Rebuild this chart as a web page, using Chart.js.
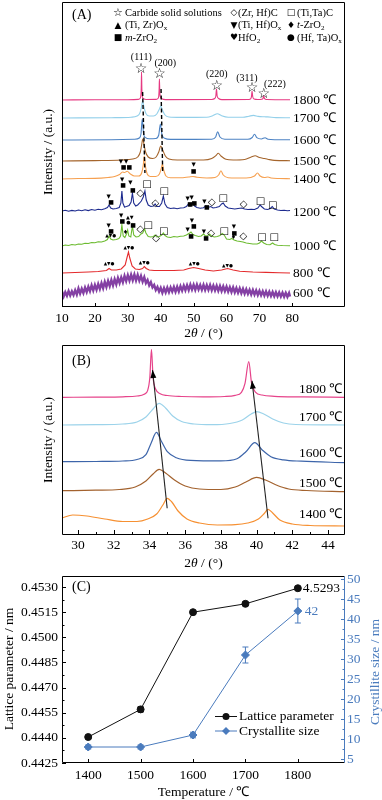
<!DOCTYPE html>
<html><head><meta charset="utf-8">
<script src="https://cdn.jsdelivr.net/npm/chart.js@4.4.0/dist/chart.umd.min.js"></script>
<style>
html,body{margin:0;padding:0;background:#fff;}
#wrap{position:relative;width:382px;height:800px;overflow:hidden;}
canvas{position:absolute;left:0;}
</style></head><body>
<div id="wrap">
<canvas id="cA" width="382" height="340" style="top:0;width:382px;height:340px"></canvas>
<canvas id="cB" width="382" height="230" style="top:340px;width:382px;height:230px"></canvas>
<canvas id="cC" width="382" height="230" style="top:570px;width:382px;height:230px"></canvas>
</div>
<script>
const SERIF = "'Liberation Serif','Times New Roman',serif";
const SYM = "'DejaVu Sans',sans-serif";

// ================= Panel A data =================
const twoThetaTicksA = [10,20,30,40,50,60,70,80];
const temperatureLabelsA = ['1800 ℃','1700 ℃','1600 ℃','1500 ℃','1400 ℃','1200 ℃','1000 ℃','800 ℃','600 ℃'];
const xrdA1800 = [[10,0],[20,0.3],[30,0.3],[33.2,0.6],[33.7,1.5],[33.95,4],[34.08,12],[34.17,28],[34.27,11],[34.42,3.5],[34.8,1.2],[35.6,0.5],[38.6,0.6],[39.15,1.5],[39.4,4],[39.52,11],[39.6,21],[39.7,10],[39.85,3.5],[40.3,1.2],[41.5,0.4],[55.5,0.5],[56.4,1.5],[56.75,4],[56.95,11],[57.15,4],[57.6,1.5],[58.6,0.4],[66.8,0.5],[67.4,1.5],[67.6,4],[67.75,9],[67.95,3.5],[68.4,1],[69.5,0.5],[70.7,0.7],[71.1,1.8],[71.3,4.3],[71.5,1.6],[72.2,0.5],[79.3,0.2]];
const xrdA1700 = [[10,0],[25,0.3],[31,0.8],[32.8,2],[33.6,4.5],[34.1,10],[34.5,17],[34.9,11],[35.5,4.5],[36.5,2],[37.8,2],[38.8,4],[39.6,9],[40.0,12],[40.5,8],[41.3,3],[42.5,1],[46,0.6],[54,0.8],[55.8,2.3],[57.2,4.3],[58.5,2.3],[60.5,0.8],[65,0.8],[66.8,1.8],[68.2,2.6],[69.6,1.6],[71.5,1.2],[72.5,1.1],[75,0.4],[79.3,0.2]];
const xrdA1600 = [[10,0],[25,0.2],[32,0.7],[33.5,2],[34.0,6],[34.39,21],[34.8,6],[35.4,2.3],[36.5,1.2],[38.5,1.5],[39.4,5],[39.9,16],[40.4,5],[41.2,1.8],[43,0.6],[55.5,0.8],[56.7,3],[57.3,8.3],[58.0,3],[59.5,0.8],[66.5,0.8],[67.8,2.5],[68.5,5.7],[69.2,2.3],[70.6,1],[71.7,2.3],[72.6,0.8],[75,0.3],[79.3,0.2]];
const xrdA1500 = [[10,0],[20,0.4],[28,1],[31.5,2],[33,4],[33.8,9],[34.2,16],[34.54,22],[34.9,17],[35.4,9],[36.2,4],[37.5,2.5],[38.6,4],[39.4,9],[40.0,15],[40.6,11],[41.4,5],[42.5,2],[45,1],[53,1],[55.5,2.5],[56.8,5.5],[57.5,7.7],[58.3,5],[59.8,1.8],[62,1],[65.5,1.5],[67.5,4],[68.7,5.3],[70,3.5],[71.5,2.5],[72.5,1.8],[74.5,0.6],[79.3,0.3]];
const xrdA1400 = [[10,0],[15,0.5],[20,0.6],[24,1.5],[26,2.5],[27.5,4.5],[28.4,7],[29.0,6.5],[29.8,7.7],[30.8,5],[32,3],[33.3,3],[34.2,6],[34.7,14],[35.0,23],[35.35,13],[35.9,5],[36.8,2.5],[38.5,2.5],[39.6,5],[40.2,11],[40.5,15],[40.9,9],[41.6,3],[43,1.2],[46,1.2],[48.5,2],[49.8,2.5],[51,1.8],[54,1],[56.5,1.5],[57.6,4],[58.3,8.3],[59,4],[60.5,1.3],[66,1],[68.5,3],[69.4,6],[70.2,3],[71.5,1.5],[72.6,2],[73.5,1],[76,0.5],[79.3,0.3]];
const xrdA1200 = [[10,0],[11,0.8],[12,-0.3],[13,0.6],[14,0],[15,1],[16,0.2],[17,1.2],[18,0.4],[19,1.5],[20,0.8],[21,1.8],[22,1.2],[23,2.2],[23.8,3.5],[24.3,6],[24.8,3],[25.5,2],[26.5,2.5],[27.4,3.5],[27.9,8],[28.2,20],[28.5,8],[29,4],[29.6,4.5],[30.4,5.5],[31.0,9],[31.4,18],[31.8,8],[32.4,5],[33.0,6],[33.6,8],[34.1,10],[34.7,14],[35.2,20],[35.6,11],[36.2,6],[37,4.5],[37.8,5],[38.3,7],[38.8,4.5],[39.6,4.5],[40.3,8],[40.8,15],[41.3,7],[42,3.5],[43,2.5],[44,3],[45,2.2],[46,3],[47,3.2],[47.8,4.5],[48.4,7],[48.9,5],[49.6,8],[50.3,5],[51,3.5],[52,2.8],[53,3.2],[53.7,5],[54.4,3.5],[55.2,4.5],[55.9,3],[56.8,3.5],[57.8,4.5],[58.5,7],[59.0,8],[59.6,5],[60.5,3],[61.5,2.5],[62.5,2],[63.5,2.5],[64.6,3],[65.5,2],[66.5,1.5],[67.5,1.8],[68.5,1.5],[69.5,3],[70.2,6],[70.8,4],[71.5,2],[72.5,1.5],[73.3,2.5],[73.9,4.5],[74.5,2],[75.5,1],[76.5,0.5],[77.5,0.8],[78.5,0.2],[79.3,0.5]];
const xrdA1000 = [[10,0],[11,1],[12,0.5],[13,1.5],[14,1],[15,2],[16,1.8],[17,2.8],[18,2.5],[19,3.5],[20,3.2],[21,4.2],[22,4],[23,5],[23.8,6.5],[24.3,10],[24.8,7],[25.5,6],[26.5,6.5],[27.3,7.5],[27.8,10],[28.2,21],[28.6,10],[29.1,8.5],[29.6,12],[29.95,16],[30.3,10],[30.9,9],[31.4,20],[31.8,11],[32.5,9],[33.3,9.5],[34.0,12],[34.5,13],[35.1,17],[35.5,13],[36.2,9.5],[37,9],[37.8,9.5],[38.3,11],[38.8,9],[39.6,9.5],[40.3,11],[40.8,13],[41.3,10.5],[42,9],[43,8.5],[44,9.5],[45,9],[46,9.8],[47,10],[47.8,11],[48.3,12],[48.8,13],[49.2,14],[49.8,11.5],[50.5,10.5],[51.5,9.5],[52.3,10],[53.0,12],[53.6,10],[54.3,10.5],[54.8,12],[55.4,10],[56.3,9],[57.2,9.5],[58.0,10.5],[58.7,12.5],[59.3,11],[60,7],[61,6.5],[61.6,7.5],[62.3,6],[63.2,5],[64.2,4.5],[65.0,4],[66,3],[68,2],[69.3,2],[70.0,3],[70.6,5],[71.3,3],[72.2,1.5],[73.2,1.2],[74.0,3],[74.6,1.5],[75.5,0.8],[77,0.5],[79.3,0.3]];
const xrdA800 = [[10,0],[14,0.5],[18,1],[21,1.5],[23.5,2.5],[24.3,4.5],[25,3],[26.5,3],[28,4],[29.2,8],[29.8,16],[30.2,21],[30.6,15],[31.3,7],[32.3,4],[33.5,3.5],[34.5,4.5],[35.0,6.5],[35.6,4.5],[36.5,3],[38,2.5],[41,2.5],[44,2.5],[47,3],[48.5,4.5],[50,5.5],[51.5,4.5],[53.5,3],[56,2],[58.5,3],[60.3,4.5],[62,3],[64,1.8],[68,1],[72,0.6],[76,0.2],[79.3,0]];
const xrdA600 = [[10,15.5],[10.5,10.5],[11,14.8],[11.5,11.2],[12,16],[12.5,11.5],[13,15.6],[13.5,12],[14,16.8],[14.5,12.4],[15,18.5],[15.5,13.5],[16,18.2],[16.5,14],[17,19.4],[17.5,15],[18,20.2],[18.5,15.8],[19,21.6],[19.5,16.5],[20,22],[20.5,17.2],[21,23],[21.5,18],[22,23.8],[22.5,18.8],[23,25.2],[23.5,20],[24,26],[24.5,21],[25,27],[25.5,21.6],[26,27.8],[26.5,22.6],[27,29],[27.5,24],[28,29.6],[28.5,24.8],[29,31.2],[29.5,26],[30,31.8],[30.5,26.4],[31,32.2],[31.5,26.8],[32,32.4],[32.5,26.6],[33,32],[33.5,26.4],[34,31],[34.5,25.4],[35,29.8],[35.5,24],[36,27],[36.5,21.6],[37,24.8],[37.5,19.6],[38,22],[38.5,17],[39,20],[39.5,15.4],[40,19.2],[40.5,14.2],[41,19],[41.5,14.6],[42,19.4],[42.5,14.8],[43,19.6],[43.5,15.4],[44,20],[44.5,15.2],[45,20.2],[45.5,15.6],[46,20.8],[46.5,16.4],[47,21.4],[47.5,16.8],[48,21.8],[48.5,17],[49,22.4],[49.5,17.4],[50,22.2],[50.5,17.2],[51,22.4],[51.5,17.6],[52,22],[52.5,17.2],[53,22.2],[53.5,17],[54,21.8],[54.5,17.2],[55,22],[55.5,16.8],[56,21.4],[56.5,16.6],[57,21.2],[57.5,16.2],[58,21],[58.5,16],[59,20.6],[59.5,15.8],[60,20.4],[60.5,15.4],[61,19.8],[61.5,15],[62,19.6],[62.5,14.6],[63,19],[63.5,14.2],[64,18.6],[64.5,13.8],[65,18.2],[65.5,13.4],[66,17.8],[66.5,13.2],[67,17.2],[67.5,12.6],[68,17],[68.5,12.4],[69,16.6],[69.5,12],[70,16.2],[70.5,11.8],[71,15.8],[71.5,11.4],[72,15.6],[72.5,11.2],[73,15.2],[73.5,11],[74,15],[74.5,10.8],[75,14.8],[75.5,10.6],[76,14.6],[76.5,10.4],[77,14.4],[77.5,10.2],[78,14.2],[78.5,10.2],[79,14],[79.3,10.5]];
const seriesA = [xrdA1800,xrdA1700,xrdA1600,xrdA1500,xrdA1400,xrdA1200,xrdA1000,xrdA800,xrdA600];
// stacking offsets, label positions and colours (layout / style)
const offsetsA = [207,189,167,146,128,96,61,34,0];
const labelLevelA = [207,189,167,146,128,94.5,61,34,14];
const coloursA = ['#e63a82','#93d0ea','#4d83c4','#a5652c','#f6a050','#1c2a8e','#6cbb30','#e42a2c','#8440a4'];
// annotations: Miller indices, stars, phase markers (2θ, intensity)
const millerA = [['(111)',34.1,250],['(200)',41.4,244],['(220)',57.05,233],['(311)',66.2,229],['(222)',74.7,223]];
const starsA = [[34.0,238],[39.6,232.5],[57.0,221],[67.75,218.5],[71.3,212.5]];
const dashLinesA = [[[34.5,215],[35.2,134]],[[40.1,218],[40.6,134]]];
const markersA = [
 [27.9,145,'▼'],[29.5,145,'▼'],[28.75,140,'■'],[30.45,140,'■'],[50.0,142,'▼'],[50.0,136,'■'],
 [24.2,110,'▼'],[24.9,105,'■'],[28.3,127,'▼'],[28.6,122,'■'],[30.8,124,'▼'],[31.5,117,'■'],
 [33.8,114,'◇'],[35.8,123,'□'],[38.4,104,'◇'],[41.1,116,'□'],
 [48.2,108,'▼'],[49.4,109,'▼'],[48.9,103,'■'],[50.2,104,'■'],[53.3,105,'▼'],[54.0,100,'■'],
 [55.5,105,'◇'],[59.0,109,'□'],[65.2,103,'◇'],[70.3,106,'□'],[74.0,102,'□'],
 [24.2,81,'▼'],[24.9,76,'■'],[24.8,71,'▲▼●'],
 [28.0,91,'▼'],[28.3,86,'■'],[30.6,89,'▲▼'],[30.2,84,'●'],[29.3,75,'♦'],[31.6,82,'■'],
 [33.8,78,'◇'],[36.2,82,'□'],[38.6,69,'◇'],[40.9,76,'□'],
 [48.2,77,'▼'],[49.2,71,'■'],[49.5,86,'▼'],[50.1,81,'■'],[53.1,75,'▼'],[53.8,69,'■'],
 [55.3,74,'◇'],[59.3,76,'□'],[62.2,80,'▼'],[62.4,74,'■'],[62.1,70,'♦'],[65.1,71,'◇'],[70.8,70,'□'],[74.5,70,'□'],
 [24.3,43,'▲▼●'],[30.3,59,'▲▼●'],[35.0,44,'▲▼●'],[50.2,43,'▲▼●'],[60.3,41,'▲▼●']
];
const legendA = [
 ['☆',[['Carbide solid solutions']]],['◇',[['(Zr, Hf)C']]],['□',[['(Ti,Ta)C']]],
 ['▲',[['(Ti, Zr)O'],['x','sub']]],['▼',[['(Ti, Hf)O'],['x','sub']]],['♦',[['t','it'],['-ZrO'],['2','sub']]],
 ['■',[['m','it'],['-ZrO'],['2','sub']]],['♥',[['HfO'],['2','sub']]],['●',[['(Hf, Ta)O'],['x','sub']]]
];

// ================= Panel B data =================
const twoThetaTicksB = [30,32,34,36,38,40,42,44];
const temperatureLabelsB = ['1800 ℃','1700 ℃','1600 ℃','1500 ℃','1400 ℃'];
const xrdB1800 = [[29.1,0],[31,0.2],[32.5,0.5],[33.3,1.3],[33.7,3],[33.9,7],[34.02,20],[34.11,48],[34.2,20],[34.35,8],[34.6,3.5],[35.0,1.8],[35.8,0.8],[37,0.4],[38.2,0.8],[38.8,2],[39.15,5],[39.35,14],[39.56,35.6],[39.72,14],[39.95,5],[40.3,2.3],[41,1],[42.5,0.4],[44.95,0]];
const xrdB1700 = [[29.1,0],[31,0.3],[32.5,1],[33.3,3],[33.8,8],[34.2,16],[34.54,21.7],[34.9,17],[35.3,9],[35.8,3.5],[36.5,1],[37.5,0.3],[38.5,1.5],[39.2,5],[39.7,11],[40.0,13.3],[40.4,11],[40.9,6],[41.5,2],[42.2,0.5],[44.95,0]];
const xrdB1600 = [[29.1,0],[31,0.2],[32.5,0.7],[33.3,2.2],[33.8,7],[34.1,19],[34.39,29.3],[34.65,21],[35.0,10],[35.5,4],[36.3,1.3],[38,0.8],[38.9,3],[39.4,10],[39.9,19],[40.3,12],[40.8,5],[41.5,1.8],[42.5,0.5],[44.95,-1]];
const xrdB1500 = [[29.1,0],[31,0.5],[32.3,1.2],[33.2,3.7],[33.8,9.7],[34.2,16.7],[34.54,21.3],[34.9,17.7],[35.4,10.7],[36,4.7],[36.8,1.7],[38,1.2],[38.8,3.7],[39.4,8.7],[40.0,13.3],[40.5,10.7],[41.1,5.7],[41.8,1.7],[42.8,0.2],[44.95,-1]];
const xrdB1400 = [[29.1,7],[29.7,10],[30.5,9],[31.5,6],[32.5,3.5],[33.3,3.5],[33.9,6],[34.4,11],[34.75,20],[34.99,26.7],[35.25,23],[35.6,14],[36.1,6],[36.8,2],[37.8,0],[38.8,0.3],[39.5,2],[40.1,6],[40.45,12],[40.64,15.7],[40.9,12],[41.3,5],[42,1],[43,-0.5],[44.95,-1]];
const seriesB = [xrdB1800,xrdB1700,xrdB1600,xrdB1500,xrdB1400];
const offsetsB = [137.7,110,73.3,44.3,10];
const coloursB = ['#e6438a','#9cd3ea','#3d65aa','#a3622e','#f69032'];
const arrowsB = [[[34.99,26.7],[34.17,165]],[[40.64,16.7],[39.74,154.3]]];

// ================= Panel C data =================
const temperaturesC = [1400,1500,1600,1700,1800];
const latticeC = [0.44405,0.4457,0.4515,0.4520,0.45293];
const latticeErrC = [0.00008,0.00015,0.00008,0.0001,0.0001];
const crystalC = [8,8,11,31,42];
const crystalErrC = [0.5,0.5,0.7,2,3];
const latticeTicksC = [0.4425,0.4440,0.4455,0.4470,0.4485,0.4500,0.4515,0.4530];
const crystalTicksC = [5,10,15,20,25,30,35,40,45,50];
const BLUE = '#4a7bbd';

// ================= helpers =================
function txt(ctx,s,x,y,font,color,align,base){ctx.save();ctx.font=font;ctx.fillStyle=color;ctx.textAlign=align||'left';ctx.textBaseline=base||'middle';ctx.fillText(s,x,y);ctx.restore();}
function richWidth(ctx,segs,size){let w=0;for(const [t,st] of segs){const f=st==='sub'?size*0.68:size;ctx.font=(st==='it'?'italic ':'')+f+'px '+SERIF;w+=ctx.measureText(t).width;}return w;}
function rich(ctx,segs,x,y,size,color,align){ctx.save();let cx=x;if(align==='center')cx=x-richWidth(ctx,segs,size)/2;ctx.fillStyle=color;ctx.textBaseline='middle';ctx.textAlign='left';for(const [t,st] of segs){const f=st==='sub'?size*0.68:size;const dy=st==='sub'?size*0.28:0;ctx.font=(st==='it'?'italic ':'')+f+'px '+SERIF;ctx.fillText(t,cx,y+dy);cx+=ctx.measureText(t).width;}ctx.restore();}
function vtxt(ctx,segs,x,y,size,color){ctx.save();ctx.translate(x,y);ctx.rotate(-Math.PI/2);rich(ctx,segs,0,0,size,color,'center');ctx.restore();}
function line(ctx,x1,y1,x2,y2,color,w){ctx.save();ctx.strokeStyle=color;ctx.lineWidth=w||1;ctx.beginPath();ctx.moveTo(x1,y1);ctx.lineTo(x2,y2);ctx.stroke();ctx.restore();}
function frame(ctx,a,rightColor){const L=Math.round(a.left)+0.5,R=Math.round(a.right)-0.5,T=Math.round(a.top)+0.5,B=Math.round(a.bottom)-0.5;
 line(ctx,L,T,R,T,'#000');line(ctx,L,T,L,B,'#000');line(ctx,L,B,R,B,'#000');line(ctx,R,T,R,B,rightColor||'#000');}
function fixTicks(vals){return function(s){s.ticks=vals.map(v=>({value:v}));};}
function toXY(arr,off){return arr.map(p=>({x:p[0],y:p[1]+off}));}

Chart.defaults.font.family = SERIF;
Chart.defaults.color = '#000';
Chart.defaults.animation = false;

const glyphSize = {'▼':5.5,'■':6,'▲▼●':4.5,'▲▼':5,'●':5,'♦':6,'◇':10,'□':10};

// ================= Chart A =================
const dsA = [];
dashLinesA.forEach(d=>dsA.push({data:d.map(p=>({x:p[0],y:p[1]})),borderColor:'#000',borderWidth:1.4,borderDash:[4,2.5],showLine:true,pointRadius:0}));
seriesA.forEach((s,i)=>dsA.push({data:toXY(s,offsetsA[i]),borderColor:coloursA[i],borderWidth:i===8?2.4:1.1,showLine:true,pointRadius:0,tension:0,cubicInterpolationMode:i>=5?'default':'monotone'}));

new Chart(document.getElementById('cA'),{
 type:'scatter',
 data:{datasets:dsA},
 options:{responsive:false,animation:false,layout:{padding:{top:2,right:37,left:0,bottom:0}},
  plugins:{legend:{display:false},tooltip:{enabled:false}},
  scales:{
   x:{type:'linear',min:10,max:96,afterBuildTicks:fixTicks(twoThetaTicksA),
      grid:{display:false,drawTicks:false},border:{display:false},
      ticks:{autoSkip:false,maxRotation:0,padding:3,font:{size:13.5,family:SERIF},color:'#000'},
      afterFit(s){s.height=33;s.paddingLeft=0;s.paddingRight=0;}},
   y:{type:'linear',min:0,max:305,grid:{display:false,drawTicks:false},border:{display:false},ticks:{display:false},
      afterFit(s){s.width=62;}}
  }},
 plugins:[{id:'decoA',afterDraw(chart){
  const ctx=chart.ctx,a=chart.chartArea,x=chart.scales.x,y=chart.scales.y;
  frame(ctx,a);
  twoThetaTicksA.forEach(v=>{const px=Math.round(x.getPixelForValue(v))+0.5;line(ctx,px,a.bottom,px,a.bottom-4,'#000');});
  vtxt(ctx,[['Intensity / (a.u.)']],48,152,13.5,'#000');
  rich(ctx,[['2'],['θ','it'],[' / (°)']],(a.left+a.right)/2,333,13.5,'#000','center');
  txt(ctx,'(A)',72,15,'14px '+SERIF,'#000');
  const lx=[114,230,287],ly=[13,25.5,38];
  legendA.forEach((it,i)=>{const cx=lx[i%3],cy=ly[Math.floor(i/3)];
   txt(ctx,it[0],cx+4,cy,(it[0]==='☆'?'11px ':'9px ')+SYM,'#000','center');
   rich(ctx,it[1],cx+(i%3===0?11:(i%3===1?8:10)),cy,10.5,'#000');});
  temperatureLabelsA.forEach((t,i)=>txt(ctx,t,293,y.getPixelForValue(labelLevelA[i]),'13.5px '+SERIF,'#000'));
  millerA.forEach(m=>txt(ctx,m[0],x.getPixelForValue(m[1]),y.getPixelForValue(m[2]),'10px '+SERIF,'#000','center'));
  starsA.forEach(s=>txt(ctx,'☆',x.getPixelForValue(s[0]),y.getPixelForValue(s[1]),'14px '+SYM,'#000','center'));
  markersA.forEach(m=>txt(ctx,m[2],x.getPixelForValue(m[0]),y.getPixelForValue(m[1]),glyphSize[m[2]]+'px '+SYM,'#000','center'));
 }}]
});

// ================= Chart B =================
const dsB = [];
arrowsB.forEach(d=>dsB.push({data:d.map(p=>({x:p[0],y:p[1]})),borderColor:'#222',borderWidth:1.1,showLine:true,pointRadius:0}));
seriesB.forEach((s,i)=>dsB.push({data:toXY(s,offsetsB[i]),borderColor:coloursB[i],borderWidth:1.2,showLine:true,pointRadius:0,cubicInterpolationMode:'monotone'}));

new Chart(document.getElementById('cB'),{
 type:'scatter',
 data:{datasets:dsB},
 options:{responsive:false,animation:false,layout:{padding:{top:5,right:37,left:0,bottom:0}},
  plugins:{legend:{display:false},tooltip:{enabled:false}},
  scales:{
   x:{type:'linear',min:29.1,max:44.95,afterBuildTicks:fixTicks(twoThetaTicksB),
      grid:{display:false,drawTicks:false},border:{display:false},
      ticks:{autoSkip:false,maxRotation:0,padding:2,font:{size:13.5,family:SERIF},color:'#000'},
      afterFit(s){s.height=35;s.paddingLeft=0;s.paddingRight=0;}},
   y:{type:'linear',min:0,max:190,grid:{display:false,drawTicks:false},border:{display:false},ticks:{display:false},
      afterFit(s){s.width=62;}}
  }},
 plugins:[{id:'decoB',afterDraw(chart){
  const ctx=chart.ctx,a=chart.chartArea,x=chart.scales.x,y=chart.scales.y;
  frame(ctx,a);
  for(let v=30;v<=44;v++){const px=Math.round(x.getPixelForValue(v))+0.5;line(ctx,px,a.bottom,px,a.bottom-(v%2===0?5:3),'#000');}
  vtxt(ctx,[['Intensity / (a.u.)']],48,100,13.5,'#000');
  rich(ctx,[['2'],['θ','it'],[' / (°)']],(a.left+a.right)/2,223,13.5,'#000','center');
  txt(ctx,'(B)',72,21,'14px '+SERIF,'#000');
  const ly=[49,77,113,143,174];
  temperatureLabelsB.forEach((t,i)=>txt(ctx,t,299,ly[i],'13.5px '+SERIF,'#000'));
  arrowsB.forEach(d=>{const x0=x.getPixelForValue(d[0][0]),y0=y.getPixelForValue(d[0][1]),x1=x.getPixelForValue(d[1][0]),y1=y.getPixelForValue(d[1][1]);
   const ang=Math.atan2(y1-y0,x1-x0),L=8,W=3;ctx.save();ctx.fillStyle='#000';ctx.beginPath();
   ctx.moveTo(x1,y1);ctx.lineTo(x1-L*Math.cos(ang)+W*Math.sin(ang),y1-L*Math.sin(ang)-W*Math.cos(ang));
   ctx.lineTo(x1-L*Math.cos(ang)-W*Math.sin(ang),y1-L*Math.sin(ang)+W*Math.cos(ang));ctx.closePath();ctx.fill();ctx.restore();});
 }}]
});

// ================= Chart C =================
new Chart(document.getElementById('cC'),{
 type:'scatter',
 data:{datasets:[
  {label:'Lattice parameter',data:temperaturesC.map((t,i)=>({x:t,y:latticeC[i]})),yAxisID:'y',borderColor:'#111',backgroundColor:'#111',borderWidth:1,showLine:true,pointRadius:3.5,pointStyle:'circle'},
  {label:'Crystallite size',data:temperaturesC.map((t,i)=>({x:t,y:crystalC[i]})),yAxisID:'y2',borderColor:BLUE,backgroundColor:BLUE,borderWidth:1,showLine:true,pointRadius:4,pointStyle:'rectRot'}
 ]},
 options:{responsive:false,animation:false,layout:{padding:{top:6,right:0,left:0,bottom:0}},
  plugins:{legend:{display:false},tooltip:{enabled:false}},
  scales:{
   x:{type:'linear',min:1350,max:1890,afterBuildTicks:fixTicks(temperaturesC),
      grid:{display:false,drawTicks:false},border:{display:false},
      ticks:{autoSkip:false,maxRotation:0,padding:4,font:{size:13.5,family:SERIF},color:'#000',callback:v=>String(v)},
      afterFit(s){s.height=37;s.paddingLeft=0;s.paddingRight=0;}},
   y:{type:'linear',position:'left',min:0.4425,max:0.45366,afterBuildTicks:fixTicks(latticeTicksC),
      grid:{display:false,drawTicks:false},border:{display:false},
      ticks:{padding:4,font:{size:13.5,family:SERIF},color:'#000',callback:v=>v.toFixed(4)},
      afterFit(s){s.width=62;s.paddingTop=0;s.paddingBottom=0;}},
   y2:{type:'linear',position:'right',min:4,max:50.75,afterBuildTicks:fixTicks(crystalTicksC),
      grid:{display:false,drawTicks:false},border:{display:false},
      ticks:{padding:2,font:{size:13.5,family:SERIF},color:BLUE,callback:v=>String(v)},
      afterFit(s){s.width=37;s.paddingTop=0;s.paddingBottom=0;}}
  }},
 plugins:[{id:'decoC',
  beforeDatasetsDraw(chart){
   const ctx=chart.ctx,x=chart.scales.x,y=chart.scales.y,y2=chart.scales.y2;
   const bar=(px,t,b,c)=>{line(ctx,px,t,px,b,c);line(ctx,px-3,t,px+3,t,c);line(ctx,px-3,b,px+3,b,c);};
   temperaturesC.forEach((t,i)=>{const px=x.getPixelForValue(t);
    bar(px,y.getPixelForValue(latticeC[i]+latticeErrC[i]),y.getPixelForValue(latticeC[i]-latticeErrC[i]),'#111');
    bar(px,y2.getPixelForValue(crystalC[i]+crystalErrC[i]),y2.getPixelForValue(crystalC[i]-crystalErrC[i]),BLUE);});
  },
  afterDraw(chart){
   const ctx=chart.ctx,a=chart.chartArea,x=chart.scales.x,y=chart.scales.y,y2=chart.scales.y2;
   frame(ctx,a,BLUE);
   latticeTicksC.forEach((v,i)=>{const py=Math.round(y.getPixelForValue(v))+0.5;line(ctx,a.left,py,a.left+4,py,'#000');
     if(i<latticeTicksC.length-1){const pm=Math.round(y.getPixelForValue(v+0.00075))+0.5;line(ctx,a.left,pm,a.left+2.5,pm,'#000');}});
   crystalTicksC.forEach(v=>{const py=Math.round(y2.getPixelForValue(v))+0.5;line(ctx,a.right,py,a.right-4,py,BLUE);
     const pm=Math.round(y2.getPixelForValue(v+2.5))+0.5;if(v<50)line(ctx,a.right,pm,a.right-2.5,pm,BLUE);});
   temperaturesC.forEach(v=>{const px=Math.round(x.getPixelForValue(v))+0.5;line(ctx,px,a.bottom,px,a.bottom-4,'#000');});
   txt(ctx,'(C)',72,17,'14px '+SERIF,'#000');
   txt(ctx,'4.5293',x.getPixelForValue(1800)+5,y.getPixelForValue(latticeC[4]),'13.5px '+SERIF,'#000');
   txt(ctx,'42',x.getPixelForValue(1800)+7,y2.getPixelForValue(crystalC[4]),'13.5px '+SERIF,BLUE);
   vtxt(ctx,[['Lattice parameter / nm']],9,99,13.5,'#000');
   vtxt(ctx,[['Crystillite size / nm']],375,102,13.5,BLUE);
   rich(ctx,[['Temperature / ℃']],(a.left+a.right)/2,222,13.5,'#000','center');
   line(ctx,215,146.5,237,146.5,'#111');ctx.save();ctx.fillStyle='#111';ctx.beginPath();ctx.arc(226,146.5,3.5,0,Math.PI*2);ctx.fill();ctx.restore();
   txt(ctx,'Lattice parameter',239,146.5,'13.5px '+SERIF,'#000');
   line(ctx,215,161,237,161,BLUE);ctx.save();ctx.fillStyle=BLUE;ctx.beginPath();ctx.moveTo(226,157);ctx.lineTo(230,161);ctx.lineTo(226,165);ctx.lineTo(222,161);ctx.closePath();ctx.fill();ctx.restore();
   txt(ctx,'Crystallite size',239,161,'13.5px '+SERIF,'#000');
  }}]
});
</script>
</body></html>
